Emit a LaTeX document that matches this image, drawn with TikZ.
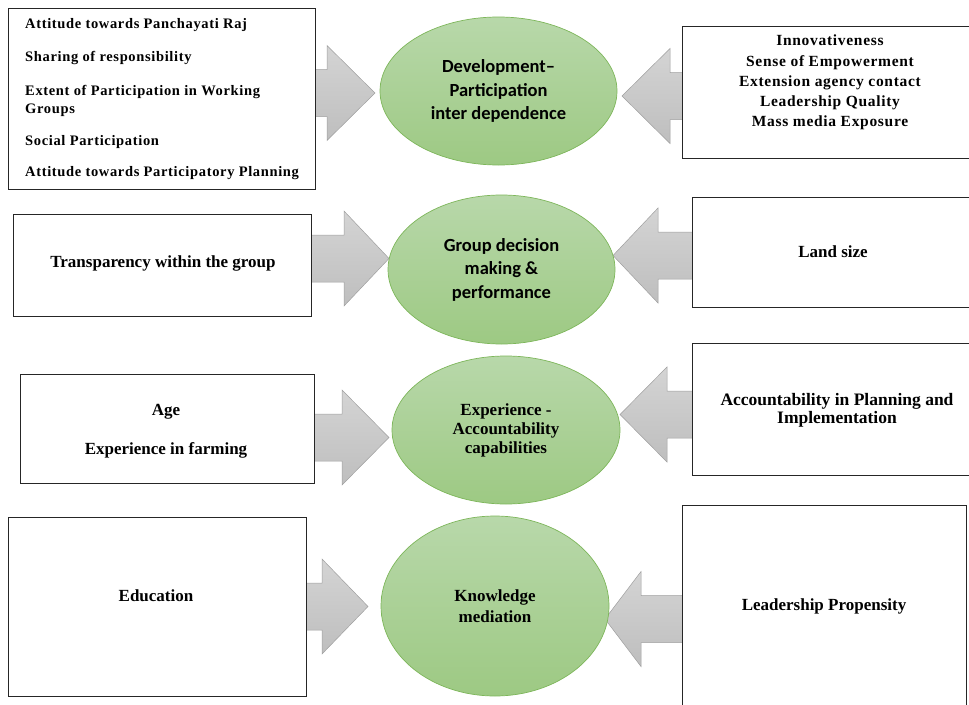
\documentclass[tikz,border=0pt]{standalone}
\usepackage{fontspec}
\setmainfont{Liberation Serif}
\newfontfamily\calfont{Carlito}
\newfontfamily\spacedfont{Liberation Serif}[LetterSpace=4.5]
\usepackage{tikz}
\usetikzlibrary{shapes.geometric}

\definecolor{bubtop}{RGB}{184,216,170}
\definecolor{bubbot}{RGB}{157,201,131}
\definecolor{bubline}{RGB}{125,182,90}
\definecolor{arrtop}{RGB}{212,212,212}
\definecolor{arrbot}{RGB}{190,190,190}

\tikzset{
	box/.style={draw=black!85, line width=0.9pt, fill=white, inner sep=0pt},
	bubble/.style={ellipse, draw=bubline, line width=0.7pt, top color=bubtop, bottom color=bubbot, inner sep=0pt, align=center},
	blockarr/.style={draw=gray!75, line width=0.5pt, top color=arrtop, bottom color=arrbot},
	txt/.style={inner sep=0pt, align=center, font=\bfseries\fontsize{17}{20}\selectfont}
}

% block arrow: shaft start x, head base x, tip x, middle y
\newcommand{\blockarrow}[4]{%
	\path[blockarr] (#1,#4-23.5) -- (#2,#4-23.5) -- (#2,#4-47.5) -- (#3,#4)
		-- (#2,#4+47.5) -- (#2,#4+23.5) -- (#1,#4+23.5) -- cycle;}

\begin{document}
\begin{tikzpicture}[x=1pt, y=-1pt]
	\useasboundingbox (0,0) rectangle (969,704);
	\clip (0,0) rectangle (969,704);
	% arrows
	\blockarrow{312}{327}{375}{93}
	\blockarrow{685}{670}{622}{96}
	\blockarrow{308}{344}{389}{258.5}
	\blockarrow{695}{658}{613}{255.5}
	\blockarrow{311}{342}{389}{437.5}
	\blockarrow{695}{667}{620}{414.5}
	\blockarrow{303}{322}{368}{606.5}
	\blockarrow{685}{641}{605}{619}
	% boxes
	\node[box, minimum width=307, minimum height=181] (lb1) at (161.5,98.5) {};
	\node[box, minimum width=298, minimum height=132] (rb1) at (831,92) {};
	\node[box, minimum width=298, minimum height=102] (lb2) at (162,265) {};
	\node[box, minimum width=288, minimum height=110] (rb2) at (836,252) {};
	\node[box, minimum width=294, minimum height=109] (lb3) at (167,428.5) {};
	\node[box, minimum width=288, minimum height=132] (rb3) at (836,409) {};
	\node[box, minimum width=298, minimum height=179] (lb4) at (157,606.5) {};
	\node[box, minimum width=284, minimum height=215] (rb4) at (824,612.5) {};
	% box texts
	\node[txt, anchor=west, align=left, font=\spacedfont\bfseries\fontsize{14.5}{17.5}\selectfont] (lt1) at (25,99)
		{Attitude towards Panchayati Raj\\[15.5pt]
		 Sharing of responsibility\\[16.5pt]
		 Extent of Participation in Working\\
		 Groups\\[14.5pt]
		 Social Participation\\[13.5pt]
		 Attitude towards Participatory Planning};
	\node[txt, font=\spacedfont\bfseries\fontsize{15.5}{20.2}\selectfont] (rt1) at (830,82.5)
		{Innovativeness\\ Sense of Empowerment\\ Extension agency contact\\ Leadership Quality\\ Mass media Exposure};
	\node[txt] (lt2) at (163,263) {Transparency within the group};
	\node[txt] (rt2) at (833,252) {Land size};
	\node[txt] (lt3) at (166,431.5) {Age\\[19pt] Experience in farming};
	\node[txt, font=\bfseries\fontsize{17.5}{18}\selectfont] (rt3) at (837,410)
		{Accountability in Planning and\\ Implementation};
	\node[txt] (lt4) at (156,596) {Education};
	\node[txt] (rt4) at (824,606) {Leadership Propensity};
	% ellipses
	\node[bubble, minimum width=237, minimum height=148, font=\calfont\bfseries\fontsize{18.5}{23.5}\selectfont] (el1) at (498.5,91)
		{Development–\\ Participation\\ inter dependence};
	\node[bubble, minimum width=227, minimum height=149, font=\calfont\bfseries\fontsize{18.5}{23.5}\selectfont] (el2) at (501.5,269.5)
		{Group decision\\ making \&\\ performance};
	\node[bubble, minimum width=228, minimum height=148, font=\bfseries\fontsize{17}{19}\selectfont] (el3) at (506,430)
		{Experience -\\ Accountability\\ capabilities};
	\node[bubble, minimum width=228, minimum height=180, font=\bfseries\fontsize{17}{21}\selectfont] (el4) at (495,606)
		{Knowledge\\ mediation};
\end{tikzpicture}
\end{document}
